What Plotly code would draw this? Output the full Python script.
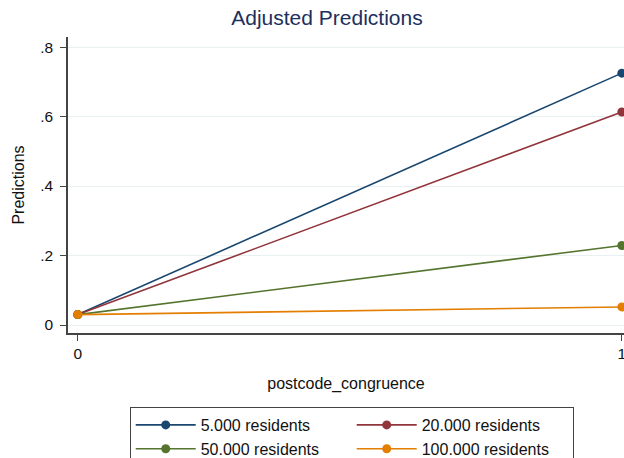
import plotly.graph_objects as go

x_vals = [0, 1]
series_names = ["5.000 residents", "20.000 residents", "50.000 residents", "100.000 residents"]
pred_5k = [0.030, 0.725]
pred_20k = [0.030, 0.613]
pred_50k = [0.030, 0.229]
pred_100k = [0.030, 0.052]
colors = ["#1a476f", "#90353b", "#55752f", "#e37e00"]
ytick_vals = [0, 0.2, 0.4, 0.6, 0.8]
ytick_text = ["0", ".2", ".4", ".6", ".8"]

fig = go.Figure()
for name, ys, c in zip(series_names, [pred_5k, pred_20k, pred_50k, pred_100k], colors):
    fig.add_trace(go.Scatter(x=x_vals, y=ys, mode="lines+markers", name=name,
                             line=dict(color=c, width=1.6),
                             marker=dict(color=c, size=9)))

fig.update_layout(
    width=624, height=458,
    margin=dict(l=68, r=0, t=37, b=125, autoexpand=False),
    paper_bgcolor="white", plot_bgcolor="white",
    font=dict(family="Liberation Sans, Arial, sans-serif", size=15.5, color="#111"),
    title=dict(text="Adjusted Predictions", x=0.524, xref="container", xanchor="center",
               y=0.961, yanchor="middle", font=dict(size=21, color="#1c2f5e")),
    xaxis=dict(range=[-0.018, 1.004], tickvals=[0, 1], ticktext=["0", "1"],
               showgrid=False, zeroline=False, showline=True, linecolor="#444", linewidth=1.5,
               ticks="outside", ticklen=6, tickcolor="#444", ticklabeloverflow="allow",
               title=dict(text="postcode_congruence", standoff=16, font=dict(size=16))),
    yaxis=dict(range=[-0.023, 0.829], tickvals=ytick_vals, ticktext=ytick_text,
               showgrid=True, gridcolor="#e8f0f2", gridwidth=1, zeroline=False,
               showline=True, linecolor="#444", linewidth=1.5,
               ticks="outside", ticklen=6, tickcolor="#444", ticklabelstandoff=4,
               title=dict(text="Predictions", standoff=12, font=dict(size=16))),
    legend=dict(orientation="h", x=0.111, xanchor="left", y=-0.25, yanchor="top",
                bordercolor="#444", borderwidth=1, bgcolor="white",
                itemwidth=60, entrywidth=146, entrywidthmode="pixels", font=dict(size=16),
                tracegroupgap=0),
    showlegend=True,
)

fig.write_html("out.html", config={"displayModeBar": False},
               post_script="document.body.style.margin='0';document.body.style.overflow='hidden';")
